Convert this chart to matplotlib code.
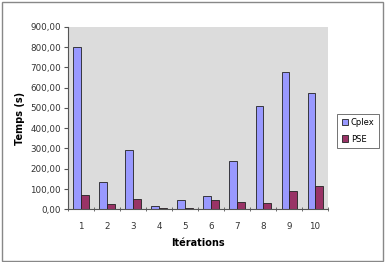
import matplotlib.pyplot as plt
import numpy as np
from matplotlib.patches import Rectangle

iterations = ['1', '2', '3', '4', '5', '6', '7', '8', '9', '10']
cplex = [801, 136, 292, 18, 46, 66, 238, 511, 675, 572]
pse = [70, 25, 52, 5, 5, 46, 38, 33, 92, 116]
y_ticks = [0, 100, 200, 300, 400, 500, 600, 700, 800, 900]

fig = plt.figure(figsize=(3.87, 2.62), dpi=100)
ax = fig.add_axes([0.1757, 0.201, 0.672, 0.697])
ax.set_facecolor('#DCDCDC')

x = np.arange(len(iterations))
w = 0.29
ax.bar(x - w / 2, cplex, w, color='#9999FF', edgecolor='#222222', linewidth=0.6, label='Cplex')
ax.bar(x + w / 2, pse, w, color='#993366', edgecolor='#222222', linewidth=0.6, label='PSE')

ax.set_xlim(-0.5, len(iterations) - 0.5)
ax.set_ylim(0, 900)
ax.set_yticks(y_ticks)
ax.set_yticklabels([f'{v:.2f}'.replace('.', ',') for v in y_ticks], fontsize=6.3, color='#333333')
ax.set_xticks(x)
ax.set_xticklabels(iterations, fontsize=6.3, color='#333333')
ax.set_xticks(np.arange(-0.5, len(iterations)), minor=True)
ax.tick_params(axis='x', which='major', length=0, pad=9)
ax.tick_params(axis='x', which='minor', length=3, direction='inout', color='#555555')
ax.tick_params(axis='y', length=3, color='#555555', pad=2)

for s in ['top', 'right']:
    ax.spines[s].set_visible(False)
for s in ['left', 'bottom']:
    ax.spines[s].set_color('#555555')
    ax.spines[s].set_linewidth(0.8)

ax.set_ylabel('Temps (s)', fontsize=7, fontweight='bold', labelpad=4)
ax.set_xlabel('Itérations', fontsize=7, fontweight='bold', labelpad=5)

leg = ax.legend(loc='center left', bbox_to_anchor=(1.02, 0.43), fontsize=6, frameon=True,
                fancybox=False, edgecolor='#333333', handlelength=0.8, handleheight=0.8,
                handletextpad=0.3, borderpad=0.5, labelspacing=0.9)
leg.get_frame().set_linewidth(0.6)

fig.patches.append(Rectangle((0.004, 0.004), 0.985, 0.99, transform=fig.transFigure,
                             fill=False, edgecolor='#888888', linewidth=1))

fig.savefig('out.png', dpi=100)
